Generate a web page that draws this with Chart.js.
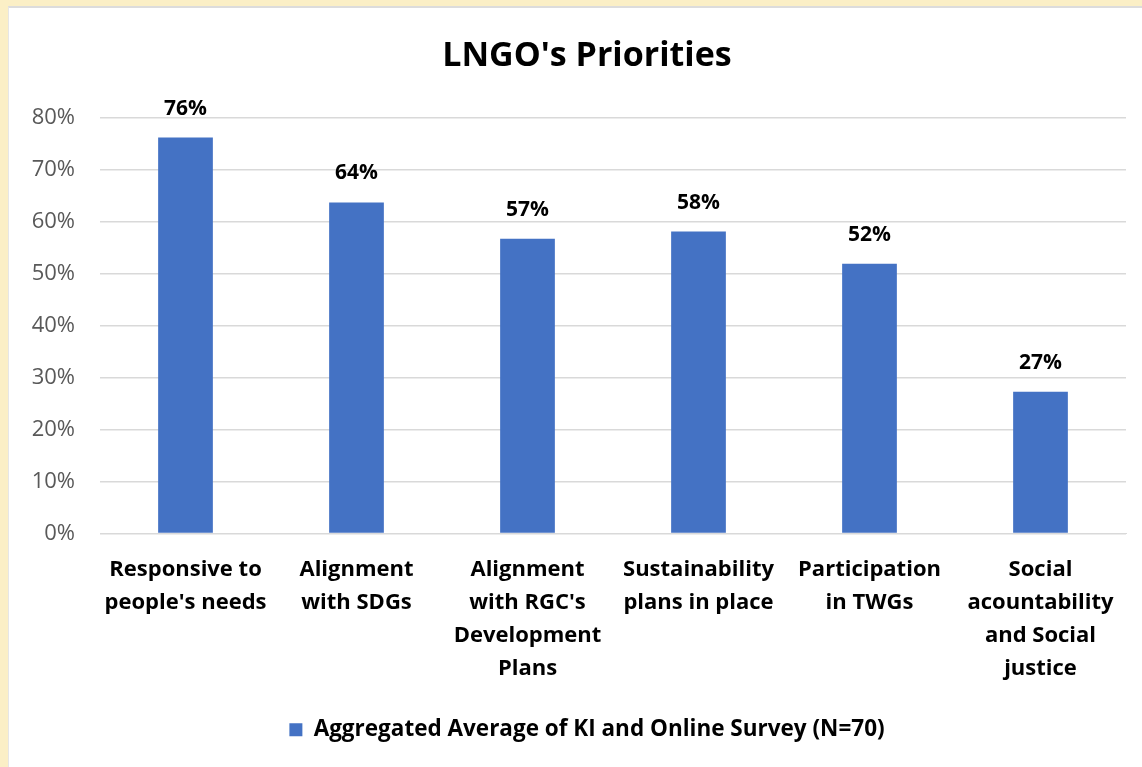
<!DOCTYPE html>
<html>
<head>
<meta charset="utf-8">
<script src="https://cdn.jsdelivr.net/npm/chart.js@4.4.0/dist/chart.umd.min.js"></script>
<style>
  html, body { margin: 0; padding: 0; }
  body { width: 1142px; height: 767px; background: #fbefc6; overflow: hidden; position: relative; }
  #panel { position: absolute; left: 8px; top: 6px; width: 1134px; height: 761px; background: #fff; border-top: 2px solid #dcdcdc; border-left: 1px solid #e6e6e6; box-sizing: border-box; }
  #panel canvas { position: absolute; left: 0; top: 0; }
</style>
</head>
<body>
<div id="panel"><canvas id="prioChart" width="1133" height="759"></canvas></div>
<script>
var categories = [
  ["Responsive to", "people's needs"],
  ["Alignment", "with SDGs"],
  ["Alignment", "with RGC's", "Development", "Plans"],
  ["Sustainability", "plans in place"],
  ["Participation", "in TWGs"],
  ["Social", "acountability", "and Social", "justice"]
];
var values = [76.2, 63.7, 56.7, 58.1, 51.9, 27.3];
var valueLabels = ["76%", "64%", "57%", "58%", "52%", "27%"];
var seriesName = "Aggregated Average of KI and Online Survey (N=70)";

// draws the % labels above each bar
var barLabels = {
  id: 'barLabels',
  afterLayout: function(chart) {
    // title and legend sit a bit right of the canvas centre in the original
    var s = 12;
    chart.titleBlock.left += s; chart.titleBlock.right += s;
    chart.legend.left += s; chart.legend.right += s;
  },
  afterDatasetsDraw: function(chart) {
    var ctx = chart.ctx;
    var meta = chart.getDatasetMeta(0);
    ctx.save();
    ctx.font = "bold 21px 'Open Sans'";
    ctx.fillStyle = "#000";
    ctx.textAlign = "center";
    ctx.textBaseline = "alphabetic";
    for (var i = 0; i < meta.data.length; ++i) {
      var bar = meta.data[i];
      ctx.fillText(valueLabels[i], bar.x, bar.y - 23);
    }
    ctx.restore();
  }
};

var ctx = document.getElementById("prioChart");
var prioChart = new Chart(ctx, {
  type: 'bar',
  data: {
    labels: categories,
    datasets: [{
      label: seriesName,
      data: values,
      backgroundColor: "#4472c4",
      barPercentage: 0.32,
      categoryPercentage: 1
    }]
  },
  options: {
    responsive: false,
    animation: false,
    layout: { padding: { left: 15, right: 16, top: 0, bottom: 16 } },
    plugins: {
      title: {
        display: true,
        text: "LNGO's Priorities",
        color: "#000",
        font: { family: "Open Sans", size: 34, weight: "bold" },
        padding: { top: 28, bottom: 41 }
      },
      legend: {
        position: 'bottom',
        labels: {
          color: "#000",
          font: { family: "Open Sans", size: 22.5, weight: "bold" },
          boxWidth: 13,
          boxHeight: 13,
          padding: 21
        }
      },
      tooltip: { enabled: false }
    },
    scales: {
      x: {
        grid: { display: false },
        border: { color: "#d9d9d9" },
        ticks: {
          color: "#000",
          maxRotation: 0,
          autoSkip: false,
          padding: 12,
          font: { family: "Open Sans", size: 22, weight: "bold", lineHeight: 1.5 }
        }
      },
      y: {
        min: 0,
        max: 80,
        border: { display: false },
        grid: { color: "#d9d9d9", lineWidth: 1.5, drawTicks: false },
        afterFit: function(scale) { scale.width = 76; },
        ticks: {
          stepSize: 10,
          color: "#595959",
          padding: 25,
          font: { family: "Open Sans", size: 22 },
          callback: function(v) { return v + "%"; }
        }
      }
    }
  },
  plugins: [barLabels]
});
</script>
</body>
</html>
